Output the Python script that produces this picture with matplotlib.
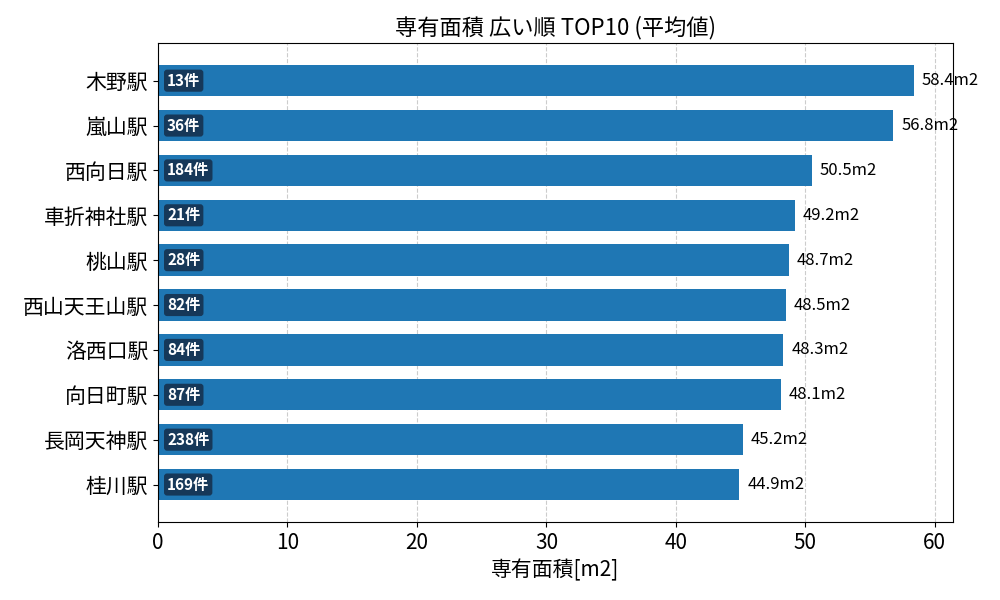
import matplotlib.pyplot as plt

plt.rcParams["font.family"] = ["Noto Sans CJK JP", "DejaVu Sans"]

stations = ["木野駅", "嵐山駅", "西向日駅", "車折神社駅", "桃山駅",
            "西山天王山駅", "洛西口駅", "向日町駅", "長岡天神駅", "桂川駅"]
areas = [58.4, 56.8, 50.5, 49.2, 48.7, 48.5, 48.3, 48.1, 45.2, 44.9]
counts = [13, 36, 184, 21, 28, 82, 84, 87, 238, 169]

fig, ax = plt.subplots(figsize=(10, 6), dpi=100)
y = list(range(len(stations)))
ax.barh(y, areas, height=0.7, color="#1f77b4", zorder=2)
ax.invert_yaxis()
ax.set_yticks(y)
ax.set_yticklabels(stations, fontsize=15)
ax.tick_params(axis="x", labelsize=15)
ax.set_xlim(0, 61.4)
ax.grid(axis="x", linestyle="--", color="#cccccc", zorder=0)
ax.set_axisbelow(True)

for i, (a, c) in enumerate(zip(areas, counts)):
    ax.text(a + 0.6, i, f"{a:.1f}m2", va="center", ha="left", fontsize=12)
    ax.text(0.7, i, f"{c}件", va="center", ha="left", fontsize=11,
            color="white", fontweight="bold", zorder=3,
            bbox=dict(boxstyle="round,pad=0.2", facecolor="#15324f",
                      edgecolor="none", alpha=0.9))

ax.set_title("専有面積 広い順 TOP10 (平均値)", fontsize=16)
ax.set_xlabel("専有面積[m2]", fontsize=15)
fig.subplots_adjust(left=0.158, right=0.953, top=0.928, bottom=0.13)
fig.savefig("out.png")
